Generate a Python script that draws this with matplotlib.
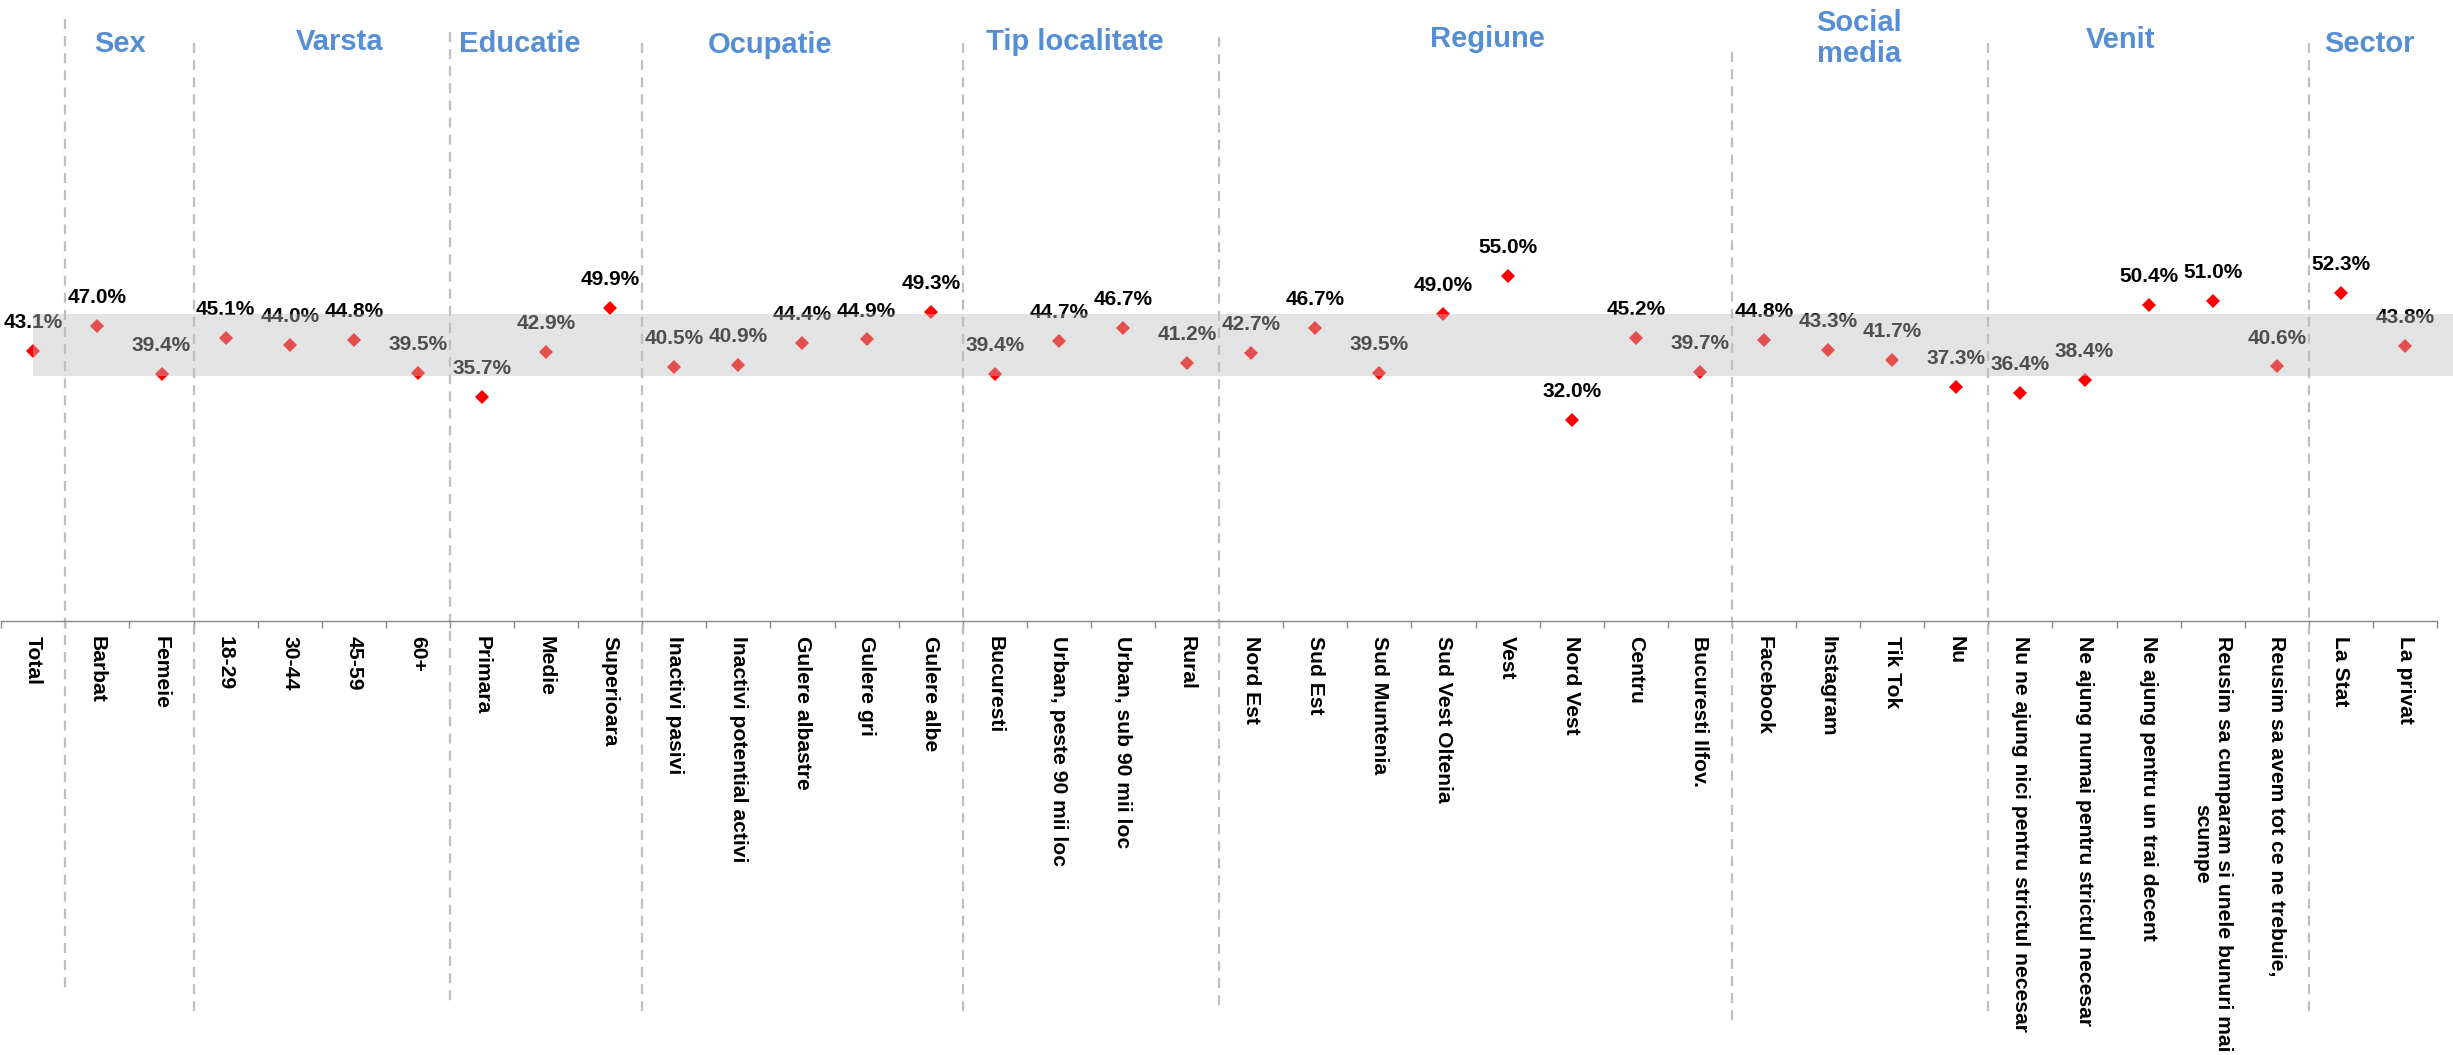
import numpy as np
import matplotlib
matplotlib.use("Agg")
import matplotlib.pyplot as plt
from matplotlib.transforms import blended_transform_factory

plt.rcParams["font.family"] = ["Liberation Sans", "DejaVu Sans"]

categories = [
    "Total", "Barbat", "Femeie", "18-29", "30-44", "45-59", "60+",
    "Primara", "Medie", "Superioara",
    "Inactivi pasivi", "Inactivi potential activi", "Gulere albastre", "Gulere gri", "Gulere albe",
    "Bucuresti", "Urban, peste 90 mii loc", "Urban, sub 90 mii loc", "Rural",
    "Nord Est", "Sud Est", "Sud Muntenia", "Sud Vest Oltenia", "Vest", "Nord Vest", "Centru",
    "Bucuresti Ilfov.",
    "Facebook", "Instagram", "Tik Tok", "Nu",
    "Nu ne ajung nici pentru strictul necesar", "Ne ajung numai pentru strictul necesar",
    "Ne ajung pentru un trai decent", "Reusim sa cumparam si unele bunuri mai\nscumpe",
    "Reusim sa avem tot ce ne trebuie,",
    "La Stat", "La privat",
]
values = [
    43.1, 47.0, 39.4, 45.1, 44.0, 44.8, 39.5,
    35.7, 42.9, 49.9,
    40.5, 40.9, 44.4, 44.9, 49.3,
    39.4, 44.7, 46.7, 41.2,
    42.7, 46.7, 39.5, 49.0, 55.0, 32.0, 45.2, 39.7,
    44.8, 43.3, 41.7, 37.3,
    36.4, 38.4, 50.4, 51.0, 40.6,
    52.3, 43.8,
]
groups = ["Sex", "Varsta", "Educatie", "Ocupatie", "Tip localitate", "Regiune",
          "Social\nmedia", "Venit", "Sector"]
group_sizes = [2, 4, 3, 5, 4, 8, 4, 5, 2]
band_low, band_high = 39.1, 48.9

# layout (pixels from top of the 2453x1055 image) for the hand placed bits
W, H = 2453, 1055
header_x = [1.35, 4.78, 7.59, 11.5, 16.25, 22.68, 28.48, 32.57, 36.44]
header_base_px = [52, 50, 52, 53, 50, 47, 62, 48, 52]
sep_top_px = [19, 43, 32, 43, 43, 37, 52, 43, 43]
sep_bot_px = [993, 1017, 1007, 1017, 1017, 1012, 1025, 1017, 1017]

BLUE = "#558ED5"
n = len(categories)
x = np.arange(n)

fig = plt.figure(figsize=(W / 100, H / 100), dpi=100)
axis_px = 621
px_per_pct = 6.27
ax = fig.add_axes([1.25 / W, (H - axis_px) / H, n * 64.1 / W, axis_px / H])
ax.set_xlim(-0.5, n - 0.5)
ax.set_ylim(0, axis_px / px_per_pct)

ax.plot(x, values, linestyle="none", marker="D", markersize=7.2,
        color="#FF0000", markeredgewidth=0, zorder=4)
for xi, v in zip(x, values):
    ax.annotate(f"{v:.1f}%", (xi, v), xytext=(0, 16.5), textcoords="offset points",
                ha="center", va="baseline", fontsize=15, fontweight="bold",
                color="black", zorder=3)

# grey band drawn on top, semi transparent
ax.axhspan(band_low, band_high, xmin=0.5 / n, xmax=(W - 1.25) / (n * 64.1),
           color="#BDBDBD", alpha=0.42, lw=0, zorder=10, clip_on=False)

# separators between groups
tr = blended_transform_factory(ax.transData, fig.transFigure)
starts = np.cumsum([1] + group_sizes[:-1])
for s, t, b in zip(starts, sep_top_px, sep_bot_px):
    ax.plot([s - 0.5, s - 0.5], [1 - t / H, 1 - b / H], transform=tr,
            color="#BFBFBF", lw=1.6, dashes=(4.5, 3.2), clip_on=False, zorder=2)

for name, gx, gy in zip(groups, header_x, header_base_px):
    ax.text(gx, 1 - gy / H, name, transform=tr, ha="center", va="baseline",
            fontsize=21, fontweight="bold", color=BLUE, linespacing=1.15)

# axes: only the bottom line, ticks at category boundaries
for sp in ["left", "right", "top"]:
    ax.spines[sp].set_visible(False)
ax.spines["bottom"].set_color("#868686")
ax.spines["bottom"].set_linewidth(1.0)
ax.set_yticks([])
ax.set_xticks(np.arange(-0.5, n, 1.0))
ax.set_xticklabels([])
ax.tick_params(axis="x", which="major", length=4.8, width=1.0, color="#868686", direction="out")
ax.set_xticks(x, minor=True)
ax.set_xticklabels(categories, minor=True, rotation=-90, ha="center", va="top",
                   fontsize=15.2, fontweight="bold", multialignment="center")
ax.tick_params(axis="x", which="minor", length=0, pad=10.5)

fig.savefig("out.png", dpi=100)
